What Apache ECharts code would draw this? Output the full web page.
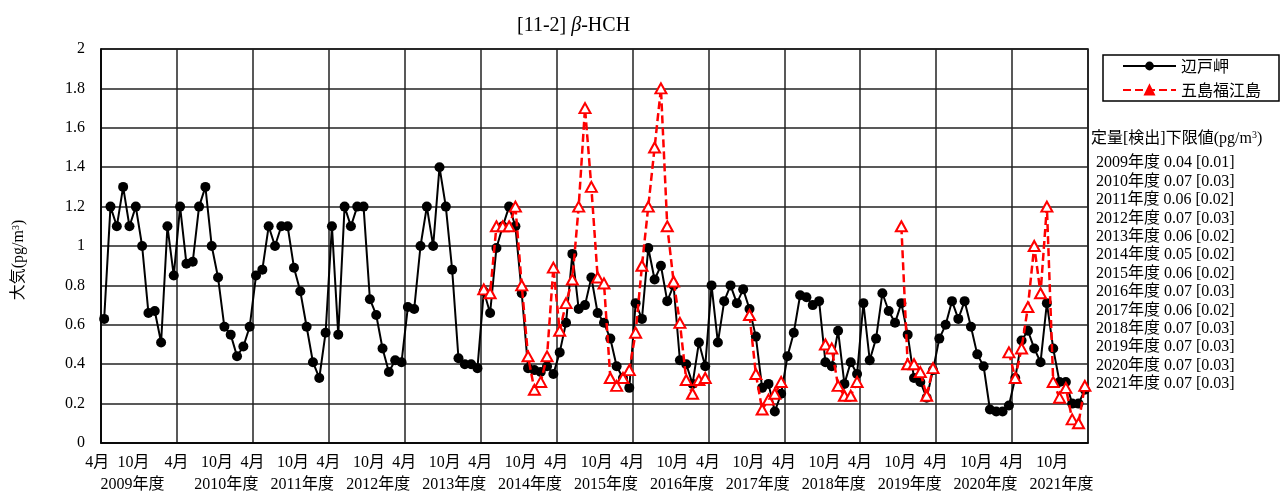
<!DOCTYPE html>
<html><head><meta charset="utf-8">
<script src="https://cdn.jsdelivr.net/npm/echarts@6/dist/echarts.min.js"></script>
<style>html,body{margin:0;padding:0;background:#fff}#c{width:1284px;height:494px}</style>
</head><body><div id="c"></div>
<script>
// ---- data ----
const fiscalYears = [2009,2010,2011,2012,2013,2014,2015,2016,2017,2018,2019,2020,2021];
const monthNames = ['4月','5月','6月','7月','8月','9月','10月','11月','12月','1月','2月','3月'];
// 辺戸岬 (Apr 2009 – Mar 2022)
const hedo = [
  0.63,1.2,1.1,1.3,1.1,1.2,1.0,0.66,0.67,0.51,1.1,0.85,
  1.2,0.91,0.92,1.2,1.3,1.0,0.84,0.59,0.55,0.44,0.49,0.59,
  0.85,0.88,1.1,1.0,1.1,1.1,0.89,0.77,0.59,0.41,0.33,0.56,
  1.1,0.55,1.2,1.1,1.2,1.2,0.73,0.65,0.48,0.36,0.42,0.41,
  0.69,0.68,1.0,1.2,1.0,1.4,1.2,0.88,0.43,0.40,0.40,0.38,
  0.77,0.66,0.99,1.1,1.2,1.1,0.76,0.38,0.37,0.36,0.39,0.35,
  0.46,0.61,0.96,0.68,0.70,0.84,0.66,0.61,0.53,0.39,0.33,0.28,
  0.71,0.63,0.99,0.83,0.90,0.72,0.80,0.42,0.40,0.30,0.51,0.39,
  0.80,0.51,0.72,0.80,0.71,0.78,0.68,0.54,0.28,0.30,0.16,0.25,
  0.44,0.56,0.75,0.74,0.70,0.72,0.41,0.39,0.57,0.30,0.41,0.35,
  0.71,0.42,0.53,0.76,0.67,0.61,0.71,0.55,0.33,0.31,0.23,0.37,
  0.53,0.60,0.72,0.63,0.72,0.59,0.45,0.39,0.17,0.16,0.16,0.19,
  0.33,0.52,0.57,0.48,0.41,0.71,0.48,0.31,0.31,0.20,0.20,0.27
];
// 五島福江島 (null = not measured)
const fukue = [
  null,null,null,null,null,null,null,null,null,null,null,null,
  null,null,null,null,null,null,null,null,null,null,null,null,
  null,null,null,null,null,null,null,null,null,null,null,null,
  null,null,null,null,null,null,null,null,null,null,null,null,
  null,null,null,null,null,null,null,null,null,null,null,null,
  0.78,0.76,1.1,1.1,1.1,1.2,0.80,0.44,0.27,0.31,0.44,0.89,
  0.57,0.71,0.83,1.2,1.7,1.3,0.84,0.81,0.33,0.29,0.33,0.37,
  0.56,0.90,1.2,1.5,1.8,1.1,0.82,0.61,0.32,0.25,0.32,0.33,
  null,null,null,null,null,null,0.65,0.35,0.17,0.22,0.25,0.31,
  null,null,null,null,null,null,0.50,0.48,0.29,0.24,0.24,0.31,
  null,null,null,null,null,null,1.1,0.40,0.40,0.36,0.24,0.38,
  null,null,null,null,null,null,null,null,null,null,null,0.46,
  0.33,0.48,0.69,1.0,0.76,1.2,0.31,0.23,0.28,0.12,0.10,0.29
];
const quantLimits  = ['0.04','0.07','0.06','0.07','0.06','0.05','0.06','0.07','0.06','0.07','0.07','0.07','0.07'];
const detectLimits = ['0.01','0.03','0.02','0.03','0.02','0.02','0.02','0.03','0.02','0.03','0.03','0.03','0.03'];
const yMin = 0, yMax = 2, yStep = 0.2;

// ---- build ----
const categories = [];
fiscalYears.forEach(y => monthNames.forEach(m => categories.push(y + '年度' + m)));
const FONT = '"Liberation Serif", "Times New Roman", "Noto Sans CJK JP", serif';
const CJK = '"Noto Sans CJK JP", sans-serif';
const limitLines = fiscalYears.map((y, i) => y + '年度 ' + quantLimits[i] + ' [' + detectLimits[i] + ']');

const chart = echarts.init(document.getElementById('c'), null, {renderer: 'canvas'});
chart.setOption({
  animation: false,
  backgroundColor: '#fff',
  title: [
    {text: '[11-2] {i|β}-HCH', left: 512, top: 11,
     textStyle: {fontFamily: FONT, fontSize: 20, fontWeight: 'normal', color: '#000',
       rich: {i: {fontFamily: FONT, fontSize: 20, fontStyle: 'italic', color: '#000'}}}},
    {text: '定量[検出]下限値(pg/m{s|3})', left: 1091, top: 130, padding: 0,
     textStyle: {fontFamily: FONT, fontSize: 16, fontWeight: 'normal', color: '#000', lineHeight: 18,
       rich: {s: {fontFamily: FONT, fontSize: 10, color: '#000', verticalAlign: 'top', lineHeight: 12}}}},
    {text: limitLines.join('\n'), left: 1096, top: 154, padding: 0,
     textStyle: {fontFamily: FONT, fontSize: 16, fontWeight: 'normal', color: '#000', lineHeight: 18.4}}
  ],
  legend: {
    orient: 'vertical', left: 1103, top: 55,
    itemWidth: 53, itemHeight: 11, itemGap: 8,
    padding: [3, 18, 3, 19],
    borderColor: '#000', borderWidth: 1.5,
    textStyle: {fontFamily: CJK, fontSize: 16, color: '#000', lineHeight: 16},
    data: [{name: '辺戸岬'}, {name: '五島福江島', itemStyle: {color: '#ff0000', borderColor: '#ff0000'}}]
  },
  grid: {left: 101, right: 196, top: 49, bottom: 51, show: true, borderColor: '#000', borderWidth: 1.5},
  xAxis: [
    {type: 'category', data: categories, boundaryGap: true, position: 'bottom',
     axisLine: {show: true, lineStyle: {color: '#000', width: 1.5}},
     axisTick: {show: false},
     splitLine: {show: true, interval: (i) => i % 12 === 0, lineStyle: {color: '#222', width: 1.5}},
     axisLabel: {
       interval: (i) => i % 12 === 0 || i % 12 === 6,
       margin: 12,
       formatter: (v, i) => {
         const m = i % 12;
         if (i === 0) return '{f|4月}';
         if (i === 6) return '{g|10月}';
         return m === 0 ? '{a|4月}' : '{b|10月}';
       },
       rich: {
         a: {fontFamily: FONT, fontSize: 16, color: '#000', padding: [0, 7, 0, 0]},
         b: {fontFamily: FONT, fontSize: 16, color: '#000', padding: [0, 2, 0, 0]},
         f: {fontFamily: FONT, fontSize: 16, color: '#000', padding: [0, 14, 0, 0]},
         g: {fontFamily: FONT, fontSize: 16, color: '#000', padding: [0, 17, 0, 0]}
       }
     }},
    {type: 'category', data: categories, boundaryGap: true, position: 'bottom', offset: 22,
     axisLine: {show: false}, axisTick: {show: false}, splitLine: {show: false},
     axisLabel: {
       interval: (i) => i % 12 === 7,
       margin: 12,
       formatter: (v, i) => (i === 7 ? '{f|' : '{a|') + fiscalYears[Math.floor(i / 12)] + '年度}',
       rich: {
         a: {fontFamily: FONT, fontSize: 16, color: '#000', padding: [0, 0, 0, 4]},
         f: {fontFamily: FONT, fontSize: 16, color: '#000', padding: [0, 32, 0, 0]}
       }
     }}
  ],
  yAxis: {
    type: 'value', min: yMin, max: yMax, interval: yStep,
    name: '大気(pg/m{s|3})', nameLocation: 'middle', nameGap: 74, nameRotate: 90,
    nameTextStyle: {fontFamily: FONT, fontSize: 16, color: '#000', padding: [0, 28, 0, 0],
      rich: {s: {fontFamily: FONT, fontSize: 10, color: '#000', verticalAlign: 'top', lineHeight: 12}}},
    axisLine: {show: true, lineStyle: {color: '#000', width: 1.5}},
    axisTick: {show: false},
    splitLine: {show: true, lineStyle: {color: '#222', width: 1.5}},
    axisLabel: {fontFamily: FONT, fontSize: 16, color: '#000', margin: 16,
      formatter: (v) => String(Math.round(v * 10) / 10)}
  },
  series: [
    {name: '辺戸岬', type: 'line', data: hedo, z: 2,
     symbol: 'circle', symbolSize: 10, showAllSymbol: true,
     itemStyle: {color: '#000'},
     lineStyle: {color: '#000', width: 2}},
    {name: '五島福江島', type: 'line', data: fukue, z: 3,
     symbol: 'triangle', symbolSize: [11, 10], showAllSymbol: true, connectNulls: false,
     itemStyle: {color: '#fff', borderColor: '#ff0000', borderWidth: 2},
     lineStyle: {color: '#ff0000', width: 2.5, type: [8, 4]}}
  ]
});
</script>
</body></html>
